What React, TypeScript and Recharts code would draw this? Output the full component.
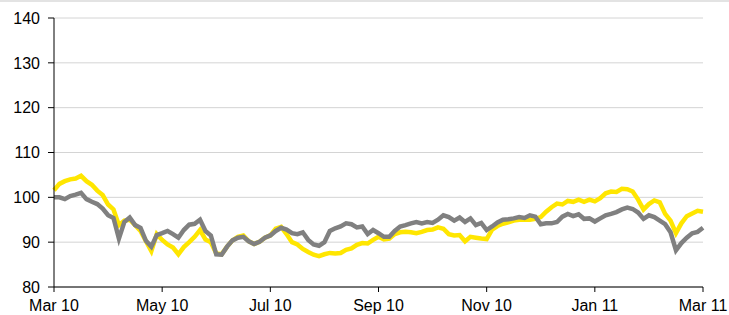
import { LineChart, Line, XAxis, YAxis, CartesianGrid } from "recharts";

const monthLabels = ["Mar 10", "May 10", "Jul 10", "Sep 10", "Nov 10", "Jan 11", "Mar 11"];
const monthTicks = [0, 20, 40, 60, 80, 100, 120];
const yTicks = [80, 90, 100, 110, 120, 130, 140];

// yellow series (index level, rebased to 100)
const yellowSeries = [
  101.6, 103.0, 103.6, 104.0, 104.2, 104.8, 103.6, 102.8, 101.5, 100.5,
  98.4, 97.3, 93.8, 94.8, 95.0, 93.8, 92.5, 90.2, 88.0, 91.8,
  90.5, 89.5, 88.8, 87.3, 88.9, 90.0, 91.2, 92.7, 90.6, 90.0,
  87.5, 87.3, 89.0, 90.4, 91.2, 91.5, 90.2, 89.6, 90.1, 91.0,
  91.5, 93.0, 93.4, 91.8, 90.0, 89.5, 88.5, 87.8, 87.2, 86.9,
  87.3, 87.6, 87.5, 87.6, 88.3, 88.6, 89.4, 89.8, 89.7, 90.5,
  91.2, 90.6, 90.8, 91.8, 92.2, 92.3, 92.2, 92.0, 92.3, 92.7,
  92.8, 93.3, 93.0, 91.8, 91.5, 91.6, 90.2, 91.2, 91.0, 90.8,
  90.7, 92.8, 93.6, 94.1, 94.4, 94.8, 95.0, 95.0, 95.0, 95.2,
  95.6, 96.8, 97.8, 98.6, 98.4, 99.2, 99.0, 99.5, 99.0, 99.5,
  99.1, 99.8, 100.9, 101.3, 101.2, 101.9, 101.8, 101.3, 99.5, 97.3,
  98.5, 99.3, 98.9, 96.3, 94.8, 92.0, 94.2, 95.8, 96.4, 97.0,
  96.8,
];

// grey series
const greySeries = [
  100.0, 100.0, 99.6, 100.3, 100.6, 101.0, 99.6, 99.0, 98.5, 97.5,
  96.0, 95.4, 90.8, 94.5, 95.5, 93.8, 93.2, 90.3, 89.0, 91.6,
  92.0, 92.5, 91.8, 91.0, 92.7, 93.9, 94.1, 95.0, 92.5, 91.5,
  87.3, 87.2, 89.0, 90.4, 91.0, 91.2, 90.2, 89.6, 90.1, 91.0,
  91.5, 92.5, 93.2, 92.8, 92.0, 91.8, 92.2, 90.5, 89.5, 89.2,
  90.0, 92.5, 93.1, 93.5, 94.2, 94.0, 93.3, 93.5, 91.8, 92.7,
  92.0, 91.2, 91.2, 92.5, 93.5, 93.8, 94.2, 94.5, 94.2, 94.5,
  94.3, 95.0, 96.0, 95.6, 94.8, 95.5, 94.5, 95.3, 93.8, 94.3,
  92.7, 93.5, 94.4, 95.0, 95.1, 95.3, 95.6, 95.4, 96.0, 95.7,
  94.0, 94.2, 94.2, 94.5, 95.7, 96.3, 95.8, 96.2, 95.2, 95.3,
  94.6, 95.3, 96.0, 96.3, 96.7, 97.3, 97.7, 97.4, 96.6, 95.2,
  96.0, 95.6, 94.8, 94.0, 92.2, 88.2, 89.8, 91.0, 92.0, 92.3,
  93.2,
];

const data = yellowSeries.map((y, i) => ({ t: i, yellow: y, grey: greySeries[i] }));

const font = "'Liberation Sans', Arial, sans-serif";

export default function App() {
  return (
    <div style={{ position: "absolute", left: 0, top: 0, width: 729, height: 315, background: "#fff" }}>
      {/* thin rule along the top edge */}
      <div style={{ position: "absolute", left: 0, top: 0, width: 729, height: 2, background: "#e3e3e3" }} />
      <LineChart
        width={729}
        height={315}
        data={data}
        margin={{ top: 18, right: 26, bottom: 0, left: 0 }}
        style={{ fontFamily: font }}
      >
        <CartesianGrid horizontal vertical={false} stroke="#d4d4d4" strokeWidth={1} />
        <XAxis
          dataKey="t"
          type="number"
          domain={[0, 120]}
          ticks={monthTicks}
          tickFormatter={(v: number) => monthLabels[monthTicks.indexOf(v)] ?? ""}
          height={28}
          stroke="#000"
          tickSize={5}
          tickMargin={8}
          tick={{ fill: "#000", fontSize: 16 }}
          interval={0}
        />
        <YAxis
          type="number"
          domain={[80, 140]}
          ticks={yTicks}
          width={54}
          stroke="#000"
          tickSize={6}
          tickMargin={8}
          tick={{ fill: "#000", fontSize: 16 }}
          interval={0}
        />
        <Line
          type="linear"
          dataKey="yellow"
          stroke="#FFE600"
          strokeWidth={4.5}
          dot={false}
          isAnimationActive={false}
        />
        <Line
          type="linear"
          dataKey="grey"
          stroke="#808080"
          strokeWidth={4.5}
          dot={false}
          isAnimationActive={false}
        />
      </LineChart>
    </div>
  );
}
